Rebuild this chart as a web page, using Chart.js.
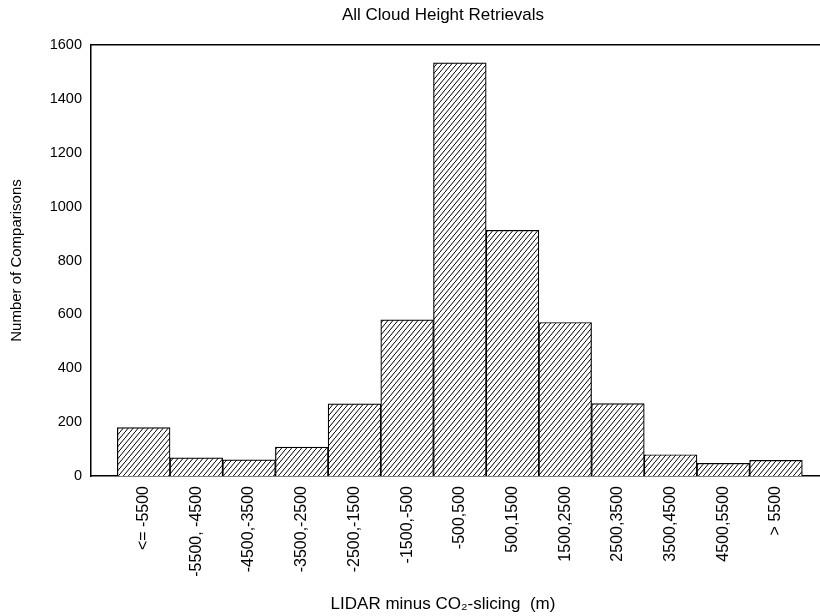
<!DOCTYPE html>
<html>
<head>
<meta charset="utf-8">
<script src="https://cdn.jsdelivr.net/npm/chart.js@4/dist/chart.umd.min.js"></script>
<style>
html,body{margin:0;padding:0;background:#fff;overflow:hidden;width:820px;height:616px;}
#wrap{width:890px;height:616px;position:relative;}
</style>
</head>
<body>
<div id="wrap"><canvas id="c" width="890" height="616"></canvas></div>
<script>
const categories = ["<= -5500", "-5500, -4500", "-4500,-3500", "-3500,-2500", "-2500,-1500", "-1500,-500", "-500,500", "500,1500", "1500,2500", "2500,3500", "3500,4500", "4500,5500", "> 5500"];
const counts = [180, 67, 60, 107, 268, 580, 1534, 912, 570, 269, 79, 47, 58];
const yTicks = [0, 200, 400, 600, 800, 1000, 1200, 1400, 1600];
const chartTitle = "All Cloud Height Retrievals";
const xTitle = "LIDAR minus CO\u2082-slicing  (m)";
const yTitle = "Number of Comparisons";

function hatch() {
  const w = 5, h = 6;
  const cv = document.createElement('canvas');
  cv.width = w; cv.height = h;
  const g = cv.getContext('2d');
  g.fillStyle = '#fff'; g.fillRect(0, 0, w, h);
  g.strokeStyle = '#000'; g.lineWidth = 1;
  g.beginPath();
  g.moveTo(-w, 2 * h); g.lineTo(2 * w, -h);
  g.stroke();
  return document.createElement('canvas').getContext('2d').createPattern(cv, 'repeat');
}

const FONT = "'Liberation Sans', Arial, sans-serif";
Chart.defaults.font.family = FONT;
Chart.defaults.color = '#000';

new Chart(document.getElementById('c'), {
  type: 'bar',
  data: {
    datasets: [{
      data: categories.map((c, i) => ({x: i, y: counts[i]})),
      backgroundColor: hatch(),
      borderColor: '#000',
      borderWidth: 1.2,
      barPercentage: 1,
      categoryPercentage: 1
    }]
  },
  options: {
    responsive: false,
    animation: false,
    layout: {padding: {left: 0, right: 4, top: 0, bottom: 0}},
    plugins: {
      legend: {display: false},
      tooltip: {enabled: false},
      title: {
        display: true, text: chartTitle, color: '#000',
        font: {size: 17, weight: 'normal'},
        padding: {top: 5.5, bottom: 19.1}
      },
      subtitle: {
        display: true, position: 'bottom', text: xTitle, color: '#000',
        font: {size: 17, weight: 'normal'},
        padding: {top: 5, bottom: 1}
      }
    },
    scales: {
      x: {
        type: 'linear', min: -1, max: 14.088, offset: false,
        afterFit: s => { s.height = 113.6; },
        afterBuildTicks: s => { s.ticks = categories.map((c, i) => ({value: i})); },
        grid: {display: false, drawTicks: false},
        border: {display: true, color: '#000', width: 1.5},
        ticks: {
          autoSkip: false, maxRotation: 90, minRotation: 90,
          padding: 10, font: {size: 16}, color: '#000',
          callback: v => categories[v]
        }
      },
      x2: {
        type: 'linear', position: 'top', min: -1, max: 14.088, offset: false,
        afterFit: s => { s.height = 0; },
        grid: {display: false, drawTicks: false},
        border: {display: true, color: '#000', width: 1.5},
        ticks: {display: false}
      },
      y: {
        min: 0, max: 1600,
        afterFit: s => { s.width = 91; },
        afterBuildTicks: s => { s.ticks = yTicks.map(v => ({value: v})); },
        grid: {display: false, drawTicks: false},
        border: {display: true, color: '#000', width: 1.5},
        ticks: {padding: 9, font: {size: 14.5}, color: '#000', callback: v => String(v)},
        title: {display: true, text: yTitle, font: {size: 15}, color: '#000', padding: {top: 8, bottom: 0}}
      }
    }
  }
});
</script>
</body>
</html>
